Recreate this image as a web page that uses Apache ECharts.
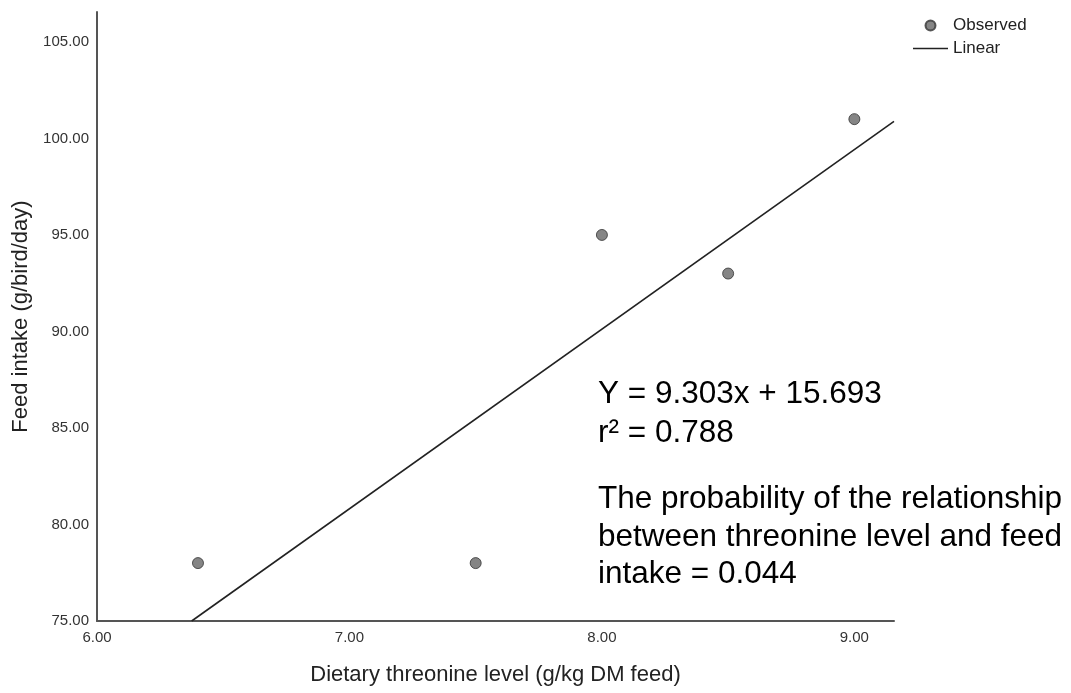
<!DOCTYPE html>
<html>
<head>
<meta charset="utf-8">
<script src="https://cdn.jsdelivr.net/npm/echarts@6/dist/echarts.min.js"></script>
<style>
html,body{margin:0;padding:0;background:#fff;}
#chart{width:1071px;height:693px;}
</style>
</head>
<body>
<div id="chart"></div>
<script>
// Data
const threonine = [6.4, 7.5, 8.0, 8.5, 9.0];
const feedIntake = [78, 78, 95, 93, 101];
const slope = 9.303;
const intercept = 15.693;
const xMin = 6, xMax = 9.157, xInterval = 1;
const yMin = 75, yMax = 106.55, yInterval = 5;
const eqText = 'Y = 9.303x + 15.693';
const r2Text = 'r\u00B2 = 0.788';
const probText = 'The probability of the relationship\nbetween threonine level and feed\nintake = 0.044';

const FONT = '"Liberation Sans", Arial, sans-serif';
const observed = threonine.map((x, i) => [x, feedIntake[i]]);
const xStart = (yMin - intercept) / slope;
const fitLine = [[xStart, slope * xStart + intercept], [xMax, slope * xMax + intercept]];

const chart = echarts.init(document.getElementById('chart'), null, {renderer: 'canvas'});
chart.setOption({
  animation: false,
  backgroundColor: '#fff',
  textStyle: {fontFamily: FONT},
  grid: {left: 97, top: 12, right: 177, bottom: 72, containLabel: false, outerBoundsMode: 'none'},
  legend: {
    orient: 'vertical',
    left: 908, top: 12,
    itemWidth: 35, itemHeight: 10, itemGap: 6,
    symbolKeepAspect: true,
    textStyle: {fontFamily: FONT, fontSize: 17, color: '#222'},
    data: [
      {name: 'Observed', icon: 'circle'},
      {name: 'Linear', icon: 'path://M0,0H35V1.6H0Z'}
    ]
  },
  xAxis: {
    type: 'value', min: xMin, max: xMax, interval: xInterval,
    name: 'Dietary threonine level (g/kg DM feed)',
    nameLocation: 'middle', nameGap: 43,
    nameTextStyle: {fontFamily: FONT, fontSize: 22, color: '#222'},
    axisLine: {lineStyle: {color: '#555', width: 2}},
    axisTick: {show: false},
    splitLine: {show: false},
    axisLabel: {fontFamily: FONT, fontSize: 15, color: '#333', margin: 9, showMaxLabel: false,
      formatter: v => v.toFixed(2)}
  },
  yAxis: {
    type: 'value', min: yMin, max: yMax, interval: yInterval,
    name: 'Feed intake (g/bird/day)',
    nameLocation: 'middle', nameGap: 64,
    nameTextStyle: {fontFamily: FONT, fontSize: 22, color: '#222'},
    axisLine: {show: true, lineStyle: {color: '#555', width: 2}},
    axisTick: {show: false},
    splitLine: {show: false},
    axisLabel: {fontFamily: FONT, fontSize: 15, color: '#333', margin: 8, showMaxLabel: false,
      formatter: v => v.toFixed(2)}
  },
  series: [
    {
      name: 'Observed', type: 'scatter', data: observed,
      symbol: 'circle', symbolSize: 11,
      itemStyle: {color: '#666', borderColor: '#333', borderWidth: 1},
      z: 3
    },
    {
      name: 'Linear', type: 'line', data: fitLine,
      symbol: 'none', showSymbol: false,
      lineStyle: {color: '#222', width: 1.6},
      itemStyle: {color: '#222'},
      z: 2
    }
  ],
  graphic: [
    {type: 'text', left: 598, top: 378, style: {text: eqText, font: '31.5px ' + FONT, fill: '#000'}},
    {type: 'text', left: 598, top: 417, style: {text: r2Text, font: '31.5px ' + FONT, fill: '#000'}},
    {type: 'text', left: 598, top: 481, style: {text: probText, font: '31.5px ' + FONT, fill: '#000', lineHeight: 37.5}}
  ]
});
</script>
</body>
</html>
